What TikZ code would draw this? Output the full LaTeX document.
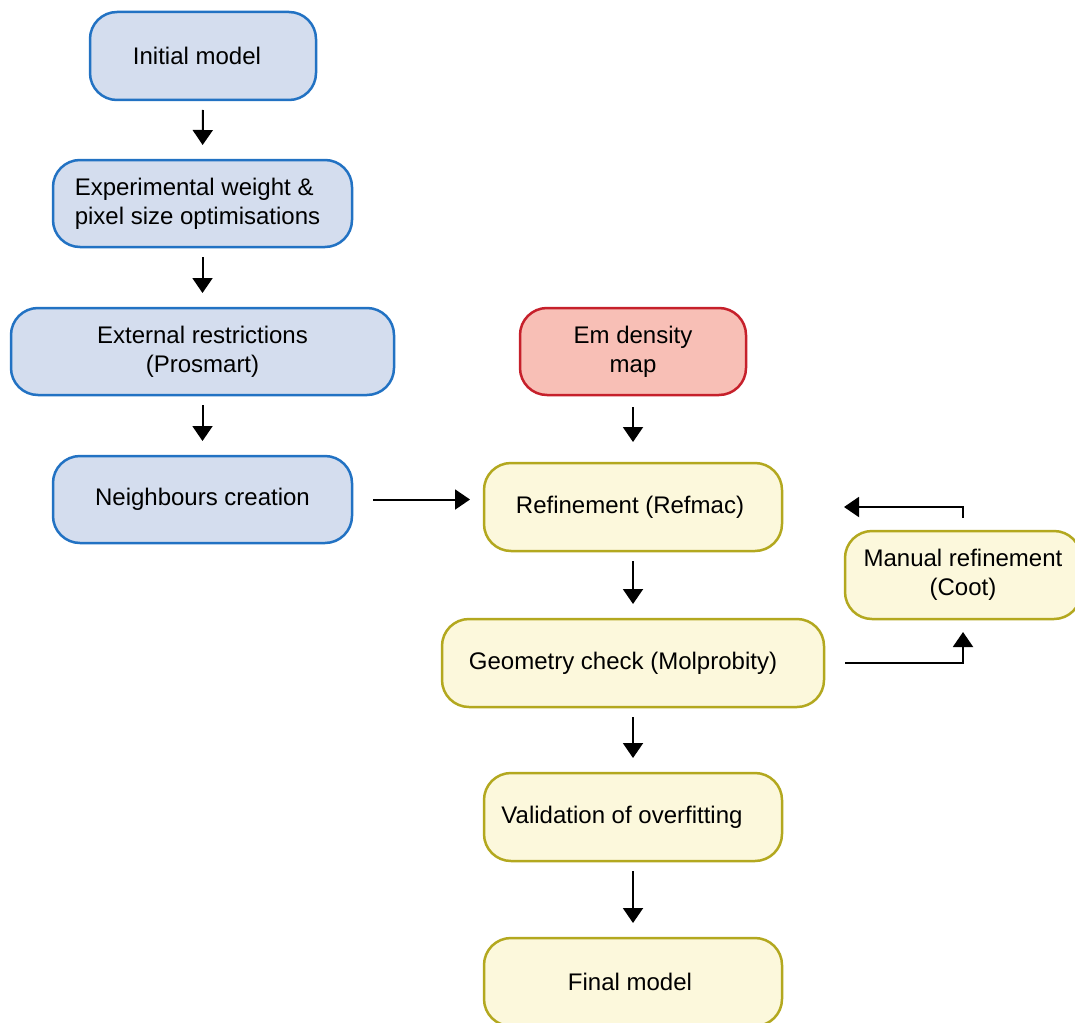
\documentclass[tikz,border=0pt]{standalone}
\usepackage{fontspec}
\setmainfont{Liberation Sans}
\usepackage{tikz}
\usetikzlibrary{arrows.meta}
\definecolor{bluefill}{HTML}{D4DDEE}
\definecolor{blueline}{HTML}{2272C3}
\definecolor{redfill}{HTML}{F8BFB6}
\definecolor{redline}{HTML}{C6202B}
\definecolor{yellowfill}{HTML}{FCF8DC}
\definecolor{yellowline}{HTML}{B3A81F}
\tikzset{
  box/.style={rounded corners=27pt, line width=2.5pt, outer sep=0pt, inner sep=0pt,
    align=center, font=\fontsize{24}{29}\selectfont},
  bluebox/.style={box, draw=blueline, fill=bluefill},
  redbox/.style={box, draw=redline, fill=redfill},
  yellowbox/.style={box, draw=yellowline, fill=yellowfill},
  flow/.style={line width=2pt, -{Triangle[width=20pt,length=15pt]}, shorten <=10pt, shorten >=15pt}
}

\begin{document}
\begin{tikzpicture}[x=1pt, y=-1pt]
                \useasboundingbox (0,0) rectangle (1075,1022);
                \node[bluebox, minimum width=226pt, minimum height=88pt] (init) at (203,56) {Initial model\hspace*{12pt}};
                \node[bluebox, minimum width=299pt, minimum height=87pt, align=left] (expw) at (202.5,203.5) {Experimental weight \&\\pixel size optimisations\hspace*{10pt}};
                \node[bluebox, minimum width=383pt, minimum height=87pt] (extr) at (202.5,351.5) {External restrictions\\(Prosmart)};
                \node[bluebox, minimum width=299pt, minimum height=87pt] (neigh) at (202.5,499.5) {Neighbours creation};
                \node[redbox, minimum width=226pt, minimum height=87pt] (emmap) at (633,351.5) {Em density\\map};
                \node[yellowbox, minimum width=298pt, minimum height=88pt] (refine) at (633,507) {Refinement (Refmac)\hspace*{6pt}};
                \node[yellowbox, minimum width=236pt, minimum height=88pt] (manual) at (963,575) {Manual refinement\\(Coot)};
                \node[yellowbox, minimum width=382pt, minimum height=88pt] (geom) at (633,663) {Geometry check (Molprobity)\hspace*{20pt}};
                \node[yellowbox, minimum width=298pt, minimum height=88pt] (valid) at (633,817) {Validation of overfitting\hspace*{22pt}};
                \node[yellowbox, minimum width=298pt, minimum height=88pt] (final) at (633,982) {Final model\hspace*{6pt}};
                \draw[flow] (init.south) -- (expw.north);
                \draw[flow] (expw.south) -- (extr.north);
                \draw[flow] (extr.south) -- (neigh.north);
                \draw[flow, shorten <=21pt, shorten >=14pt] (neigh.east) -- (neigh.east -| refine.west);
                \draw[flow, shorten <=12pt, shorten >=21pt] (emmap.south) -- (refine.north);
                \draw[flow] (refine.south) -- (geom.north);
                \draw[flow] (geom.south) -- (valid.north);
                \draw[flow] (valid.south) -- (final.north);
                \draw[flow, shorten <=21pt, shorten >=13pt] (geom.east) -| (manual.south);
                \draw[flow, shorten <=13pt, shorten >=62pt] (manual.north) |- (refine.east);
\end{tikzpicture}
\end{document}
